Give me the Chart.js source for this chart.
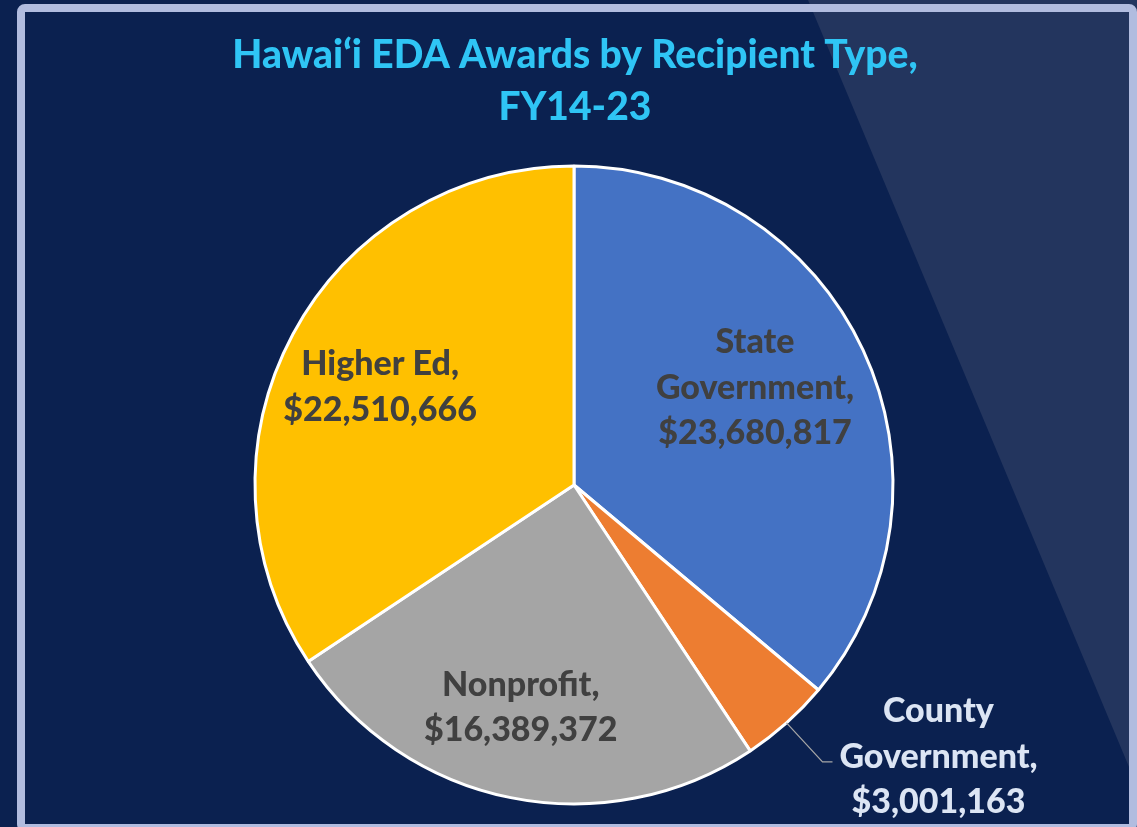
<!DOCTYPE html>
<html>
<head>
<meta charset="utf-8">
<title>Hawai‘i EDA Awards by Recipient Type</title>
<script src="https://cdn.jsdelivr.net/npm/chart.js@4"></script>
<style>
  html, body { margin: 0; padding: 0; background: #0B2150; overflow: hidden; }
  canvas { display: block; }
</style>
</head>
<body>
<canvas id="awardsChart" width="1137" height="827"></canvas>
<script>
/* Hawai'i EDA awards, FY14-23 — pie by recipient type */

const titleLines = ['Hawai‘i EDA Awards by Recipient Type,', 'FY14-23'];
const categories = [['State', 'Government'], ['County', 'Government'], ['Nonprofit'], ['Higher Ed']];
const awardValues = [23680817, 3001163, 16389372, 22510666];
const sliceColors = ['#4472C4', '#ED7D31', '#A5A5A5', '#FFC000'];

const palette = {
  navy: '#0B2150', sheen: '#23355E', frame: '#B1BCDF',
  title: '#2FC5F5', label: '#404040', outLabel: '#DCE5F4', leader: '#A6A6A6',
};

// label distance as a share of the radius (null = outside, with a leader line)
// and a small turn (degrees) off the slice's mid angle
const labelRadius = [0.644, null, 0.718, 0.681];
const labelTurn = [-3.2, 0, 2, -1.4];

// background, diagonal sheen, frame and title
const backdrop = {
  id: 'backdrop',
  beforeDraw(chart) {
    const { ctx, width, height } = chart;
    ctx.save();
    ctx.fillStyle = palette.navy;
    ctx.fillRect(0, 0, width, height);

    ctx.fillStyle = palette.sheen;
    ctx.beginPath();
    ctx.moveTo(808, 0);
    ctx.lineTo(width, 0);
    ctx.lineTo(width, 786);
    ctx.closePath();
    ctx.fill();

    ctx.strokeStyle = palette.frame;
    ctx.lineWidth = 8;
    ctx.beginPath();
    ctx.roundRect(21, 8, 1112, 820, 4);
    ctx.stroke();

    ctx.fillStyle = palette.title;
    ctx.font = '900 39px Lato';
    ctx.textAlign = 'center';
    ctx.textBaseline = 'alphabetic';
    ctx.fillText(titleLines[0], 575, 68);
    ctx.fillText(titleLines[1], 575, 120);
    ctx.restore();
  }
};

const sliceLabels = {
  id: 'sliceLabels',
  afterDatasetsDraw(chart) {
    const ctx = chart.ctx;
    const meta = chart.getDatasetMeta(0);
    ctx.save();
    ctx.font = '900 34px Lato';
    ctx.textAlign = 'center';
    ctx.textBaseline = 'middle';
    meta.data.forEach((arc, i) => {
      const p = arc.getProps(['x', 'y', 'startAngle', 'endAngle', 'outerRadius'], true);
      const mid = (p.startAngle + p.endAngle) / 2;
      const lines = [...categories[i]];
      lines[lines.length - 1] += ',';
      lines.push('$' + awardValues[i].toLocaleString('en-US'));
      let cx, cy;
      if (labelRadius[i]) {
        const a = mid + labelTurn[i] * Math.PI / 180;
        cx = p.x + Math.cos(a) * p.outerRadius * labelRadius[i];
        cy = p.y + Math.sin(a) * p.outerRadius * labelRadius[i];
        ctx.fillStyle = palette.label;
      } else {
        const ex = p.x + Math.cos(mid) * p.outerRadius;
        const ey = p.y + Math.sin(mid) * p.outerRadius;
        ctx.strokeStyle = palette.leader;
        ctx.lineWidth = 1.25;
        ctx.beginPath();
        ctx.moveTo(ex, ey);
        ctx.lineTo(ex + 36, ey + 39);
        ctx.lineTo(ex + 46, ey + 39);
        ctx.stroke();
        cx = ex + 152;
        cy = ey + 34;
        ctx.fillStyle = palette.outLabel;
      }
      const lh = 45.5;
      lines.forEach((t, k) => ctx.fillText(t, cx, cy + (k - (lines.length - 1) / 2) * lh));
    });
    ctx.restore();
  }
};

new Chart(document.getElementById('awardsChart'), {
  type: 'pie',
  data: {
    labels: categories,
    datasets: [{
      data: awardValues,
      backgroundColor: sliceColors,
      borderColor: '#FFFFFF',
      borderWidth: 3,
      radius: 319,
    }]
  },
  options: {
    responsive: false,
    animation: false,
    events: [],
    layout: { padding: { left: 11, right: 0, top: 143, bottom: 0 } },
    plugins: { legend: { display: false }, tooltip: { enabled: false }, title: { display: false } }
  },
  plugins: [backdrop, sliceLabels]
});
</script>
</body>
</html>
